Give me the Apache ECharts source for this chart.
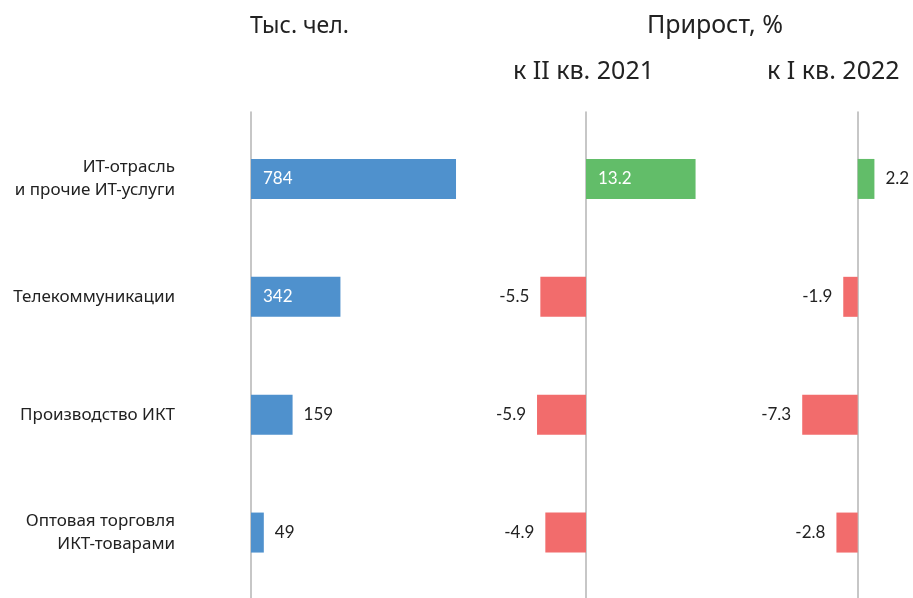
<!DOCTYPE html>
<html>
<head>
<meta charset="utf-8">
<script src="https://cdn.jsdelivr.net/npm/echarts@6/dist/echarts.min.js"></script>
<style>
  html, body { margin: 0; padding: 0; background: #fff; }
  #chart { width: 913px; height: 598px; }
</style>
</head>
<body>
<div id="chart"></div>
<script>
  // data
  var categories = ['ИТ-отрасль\nи прочие ИТ-услуги', 'Телекоммуникации', 'Производство ИКТ', 'Оптовая торговля\nИКТ-товарами'];
  var employed = [784, 342, 159, 49];          // тыс. чел.
  var growthYear = [13.2, -5.5, -5.9, -4.9];   // к II кв. 2021, %
  var growthQuarter = [2.2, -1.9, -7.3, -2.8]; // к I кв. 2022, %
  var headers = ['Тыс. чел.', 'Прирост, %', 'к II кв. 2021', 'к I кв. 2022'];

  var BLUE = '#4f91cd', GREEN = '#62bd69', RED = '#f26c6c';
  var TEXT = '#222222';
  var AXIS = '#b4b4b4';
  var numFont = 'Lato, "Noto Sans", sans-serif';
  var txtFont = '"Noto Sans", sans-serif';

  // bars long enough get the value inside in white, the rest outside
  function makeData(values, insideMin, colorFn) {
    return values.map(function (v) {
      var inside = Math.abs(v) >= insideMin;
      return {
        value: v,
        itemStyle: { color: colorFn(v) },
        label: inside
          ? { position: 'insideLeft', distance: 12, color: '#fff' }
          : { position: v < 0 ? 'left' : 'right', distance: 11, color: TEXT }
      };
    });
  }

  var signColor = function (v) { return v < 0 ? RED : GREEN; };

  // grid layout
  var grids = [
    { left: 251, width: 261.5, min: 0, max: 1000 },
    { left: 503, width: 207.5, min: -10, max: 15 },
    { left: 781.7, width: 114, min: -10, max: 5 }
  ];

  var gridList = [], xAxes = [], yAxes = [];
  grids.forEach(function (g, i) {
    // main grid with bars
    gridList.push({ left: g.left, width: g.width, top: 120, height: 471.5 });
    xAxes.push({ type: 'value', gridIndex: i, min: g.min, max: g.max, show: false });
    yAxes.push({
      type: 'category', gridIndex: i, inverse: true, data: categories,
      axisLine: { show: false }, axisTick: { show: false },
      axisLabel: i === 0 ? {
        show: true, margin: 76, align: 'right', color: TEXT,
        fontFamily: txtFont, fontSize: 17, lineHeight: 23
      } : { show: false }
    });
  });
  grids.forEach(function (g, i) {
    // taller helper grid only for the vertical zero line
    gridList.push({ left: g.left, width: g.width, top: 112, bottom: 0 });
    xAxes.push({ type: 'value', gridIndex: 3 + i, min: g.min, max: g.max, show: false });
    yAxes.push({
      type: 'category', gridIndex: 3 + i, data: categories,
      axisLine: { show: true, onZero: true, lineStyle: { color: AXIS, width: 1.5 } },
      axisTick: { show: false }, axisLabel: { show: false }, splitLine: { show: false }
    });
  });

  var labelBase = { show: true, fontFamily: numFont, fontSize: 17 };

  var option = {
    backgroundColor: '#fff',
    animation: false,
    title: [
      { text: headers[0], left: 250, top: 15, size: 23 },
      { text: headers[1], left: 647, top: 13, size: 25 },
      { text: headers[2], left: 513, top: 59, size: 25 },
      { text: headers[3], left: 767, top: 59, size: 25 }
    ].map(function (t) {
      t.padding = 0;
      t.textStyle = { color: TEXT, fontFamily: txtFont, fontWeight: 'normal', fontSize: t.size };
      delete t.size;
      return t;
    }),
    grid: gridList,
    xAxis: xAxes,
    yAxis: yAxes,
    series: [
      {
        type: 'bar', xAxisIndex: 0, yAxisIndex: 0, barWidth: 40,
        label: labelBase,
        data: makeData(employed, 300, function () { return BLUE; })
      },
      {
        type: 'bar', xAxisIndex: 1, yAxisIndex: 1, barWidth: 40,
        label: labelBase,
        data: makeData(growthYear, 10, signColor)
      },
      {
        type: 'bar', xAxisIndex: 2, yAxisIndex: 2, barWidth: 40,
        label: labelBase,
        data: makeData(growthQuarter, 10, signColor)
      }
    ]
  };

  var myChart = echarts.init(document.getElementById('chart'));
  myChart.setOption(option);
</script>
</body>
</html>
